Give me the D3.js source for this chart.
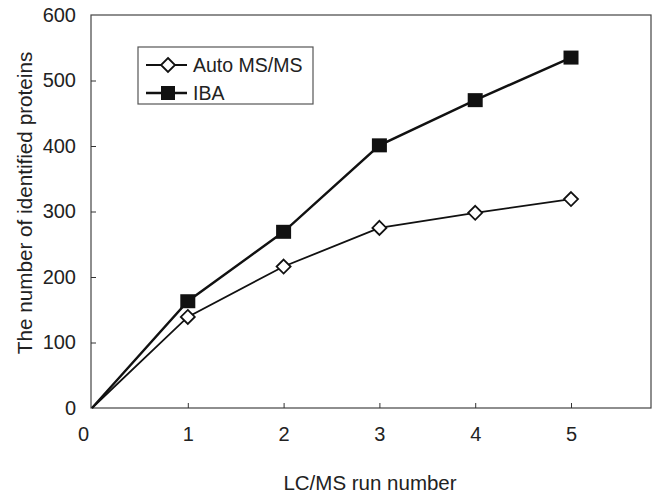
<!DOCTYPE html>
<html lang="en">
<head>
    <meta charset="UTF-8">
    <title>Identified proteins vs LC/MS runs</title>
    <script src="https://d3js.org/d3.v7.min.js"></script>
    <style>
        html, body {
            margin: 0;
            padding: 0;
            background: #fff;
        }
        svg {
            display: block;
            font-family: "Liberation Sans", Arial, sans-serif;
        }
        .axis text {
            font-size: 20px;
            fill: #222;
        }
        .axis path, .axis line {
            stroke: #333;
        }
    </style>
</head>
<body>
    <svg id="chart" width="653" height="494"></svg>

    <script>
        // run numbers and protein counts
        var runs = [0, 1, 2, 3, 4, 5];
        var autoMsms = [0, 139, 216, 275, 298, 319];
        var iba = [0, 163, 269, 401, 470, 535];
        var xTicks = [0, 1, 2, 3, 4, 5];
        var yTicks = [0, 100, 200, 300, 400, 500, 600];
        var seriesNames = ["Auto MS/MS", "IBA"];

        var margin = {top: 15, right: 2, bottom: 86, left: 92};
        var width = 653 - margin.left - margin.right,
            height = 494 - margin.top - margin.bottom;

        var svg = d3.select("#chart");
        var g = svg.append("g")
            .attr("transform", "translate(" + margin.left + "," + margin.top + ")");

        var x = d3.scaleLinear().domain([0, 5.835]).range([0, width]);
        var y = d3.scaleLinear().domain([0, 600]).range([height, 0]);

        // frame
        g.append("rect")
            .attr("x", -1)
            .attr("y", 0)
            .attr("width", width + 1)
            .attr("height", height)
            .attr("fill", "none")
            .attr("stroke", "#444")
            .attr("stroke-width", 1.2);

        // x axis, ticks pointing inward
        var xAxis = g.append("g")
            .attr("class", "axis")
            .attr("transform", "translate(0," + height + ")")
            .call(d3.axisBottom(x).tickValues(xTicks).tickSize(-5).tickPadding(19).tickFormat(d3.format("d")));
        xAxis.select(".domain").remove();
        xAxis.selectAll(".tick").filter(function(d) { return d === 0; })
            .select("line").remove();
        xAxis.selectAll(".tick").filter(function(d) { return d === 0; })
            .select("text").attr("x", -9);

        // y axis, ticks pointing inward
        var yAxis = g.append("g")
            .attr("class", "axis")
            .attr("transform", "translate(-1,0)")
            .call(d3.axisLeft(y).tickValues(yTicks).tickSize(-5).tickPadding(15));
        yAxis.select(".domain").remove();
        yAxis.selectAll(".tick").filter(function(d) { return d === 0 || d === 600; })
            .select("line").remove();

        // axis titles
        svg.append("text")
            .attr("x", 370)
            .attr("y", 490)
            .attr("text-anchor", "middle")
            .attr("font-size", 20.5)
            .attr("fill", "#222")
            .text("LC/MS run number");

        svg.append("text")
            .attr("transform", "translate(32,203) rotate(-90)")
            .attr("text-anchor", "middle")
            .attr("font-size", 20.7)
            .attr("fill", "#222")
            .text("The number of identified proteins");

        var line = d3.line()
            .x(function(d, i) { return x(runs[i]); })
            .y(function(d) { return y(d); });

        // Auto MS/MS
        g.append("path")
            .datum(autoMsms)
            .attr("fill", "none")
            .attr("stroke", "#111")
            .attr("stroke-width", 1.8)
            .attr("d", line);

        // IBA
        g.append("path")
            .datum(iba)
            .attr("fill", "none")
            .attr("stroke", "#111")
            .attr("stroke-width", 2.4)
            .attr("d", line);

        var diamond = "M0,-7L7,0L0,7L-7,0Z";

        g.selectAll(".auto-pt")
            .data(autoMsms.slice(1))
            .enter().append("path")
            .attr("class", "auto-pt")
            .attr("d", diamond)
            .attr("transform", function(d, i) { return "translate(" + x(runs[i + 1]) + "," + y(d) + ")"; })
            .attr("fill", "#fff")
            .attr("stroke", "#111")
            .attr("stroke-width", 1.8);

        g.selectAll(".iba-pt")
            .data(iba.slice(1))
            .enter().append("rect")
            .attr("class", "iba-pt")
            .attr("x", function(d, i) { return x(runs[i + 1]) - 7.5; })
            .attr("y", function(d) { return y(d) - 7; })
            .attr("width", 15)
            .attr("height", 14)
            .attr("fill", "#111");

        // legend
        var legend = svg.append("g").attr("transform", "translate(138,47)");
        legend.append("rect")
            .attr("width", 175)
            .attr("height", 57)
            .attr("fill", "#fff")
            .attr("stroke", "#555")
            .attr("stroke-width", 1.2);

        seriesNames.forEach(function(name, i) {
            var ly = 18 + i * 28;
            legend.append("line")
                .attr("x1", 8).attr("x2", 49)
                .attr("y1", ly).attr("y2", ly)
                .attr("stroke", "#111")
                .attr("stroke-width", i === 0 ? 1.8 : 2.4);
            if (i === 0) {
                legend.append("path")
                    .attr("d", diamond)
                    .attr("transform", "translate(30," + ly + ")")
                    .attr("fill", "#fff")
                    .attr("stroke", "#111")
                    .attr("stroke-width", 1.8);
            } else {
                legend.append("rect")
                    .attr("x", 23).attr("y", ly - 7)
                    .attr("width", 14).attr("height", 14)
                    .attr("fill", "#111");
            }
            legend.append("text")
                .attr("x", 55)
                .attr("y", ly + 7)
                .attr("font-size", 19.5)
                .attr("fill", "#222")
                .text(name);
        });
    </script>
</body>
</html>
